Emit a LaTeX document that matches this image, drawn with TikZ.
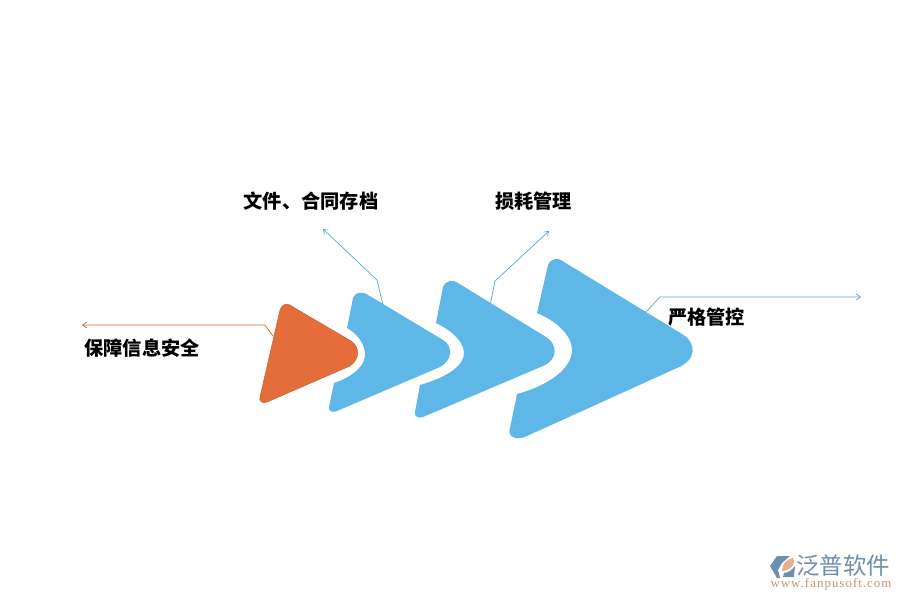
\documentclass[tikz,border=0pt]{standalone}
\usepackage{fontspec}
\usetikzlibrary{arrows.meta}
\setmainfont{Liberation Serif}
\newfontfamily\cjk{Noto Sans CJK SC}
\newfontfamily\sitefont[LetterSpace=8]{Liberation Serif}
\definecolor{arrowblue}{HTML}{5EB7E6}
\definecolor{arroworange}{HTML}{E56D3B}
\definecolor{logoblue}{HTML}{6F8FAF}
\definecolor{logoorange}{HTML}{E8AE85}
\tikzset{
  steptext/.style={font=\cjk\bfseries\fontsize{16.4}{16.4}\selectfont, inner sep=0pt},
  leader/.style={->, arrowblue!92!black, line width=0.6pt},
}

\begin{document}
\begin{tikzpicture}[x=0.03cm, y=-0.03cm, >={Straight Barb[length=3.5pt,width=5pt]}]
  \useasboundingbox (0,0) rectangle (900,600);

  % anchor points of the leaders
  \coordinate (safeS) at (273,336);
  \coordinate (safeB) at (265,325);
  \coordinate (safeE) at (82,325);
  \coordinate (fileS) at (383,305);
  \coordinate (fileB) at (377,280);
  \coordinate (fileE) at (323,229);
  \coordinate (lossS) at (490,306);
  \coordinate (lossB) at (495,281);
  \coordinate (lossE) at (549,231);
  \coordinate (ctrlS) at (646,312);
  \coordinate (ctrlB) at (660,297);
  \coordinate (ctrlE) at (861,297);

  % leaders
  \draw[->, arroworange!90!black, line width=0.6pt] (safeS) -- (safeB) -- (safeE);
  \draw[leader] (fileS) -- (fileB) -- (fileE);
  \draw[leader] (lossS) -- (lossB) -- (lossE);
  \draw[leader] (ctrlS) -- (ctrlB) -- (ctrlE);

  % orange triangle
  \draw[fill=arroworange, draw=arroworange!85!black, line width=0.4pt]
    (280,310) .. controls (282,304) and (287,302) .. (293,307)
    -- (351,341) .. controls (360,347) and (360,359) .. (350,366)
    -- (267,402) .. controls (262,404) and (259,401) .. (260,397) -- cycle;

  % blue chevrons
  \fill[arrowblue]
    (353,298) .. controls (355,292) and (362,291) .. (368,295)
    -- (443,340) .. controls (453,346) and (453,360) .. (440,367)
    -- (337,411) .. controls (332,413) and (328,411) .. (329,407)
    -- (334,383) .. controls (358,375) and (366,362) .. (365,353)
    .. controls (364,342) and (356,333) .. (347,328) -- cycle;
  \fill[arrowblue]
    (443,287) .. controls (445,281) and (452,279) .. (458,283)
    -- (546,337) .. controls (558,344) and (558,360) .. (543,366)
    -- (423,417) .. controls (418,419) and (414,416) .. (415,412)
    -- (420,385) .. controls (448,377) and (465,365) .. (464,352)
    .. controls (463,340) and (449,329) .. (436,323) -- cycle;
  \fill[arrowblue]
    (548,265) .. controls (551,258) and (558,257) .. (564,262)
    -- (682,334) .. controls (697,343) and (697,360) .. (677,368)
    -- (527,436) .. controls (516,441) and (507,437) .. (510,428)
    -- (517,394) .. controls (550,385) and (572,368) .. (572,350)
    .. controls (572,335) and (556,321) .. (537,313) -- cycle;

  % labels
  \node[steptext] (file) at (311,201) {文件、合同存档};
  \node[steptext] (loss) at (533.5,201) {损耗管理};
  \node[steptext] (ctrl) at (706.5,317) {严格管控};
  \node[steptext] (safe) at (142,348) {保障信息安全};

  % logo
  \fill[logoblue] (770,566) -- (777,556) -- (790,556) -- (782,563)
    -- (778,570) -- (780,578) -- (777,578) -- cycle;
  \fill[logoorange] (782,571) .. controls (782,564) and (786,559) .. (793,558)
    -- (794,561) .. controls (794,566) and (790,570) .. (782,571) -- cycle;
  \fill[logoblue] (783,577) -- (784,573) .. controls (788,573) and (792,570) .. (795,566)
    -- (794,577) -- cycle;
  \node[font=\cjk\fontsize{20}{20}\selectfont, text=logoblue, inner sep=0pt] (brand) at (843,566) {泛普软件};
  \node[font=\sitefont\fontsize{11}{11}\selectfont, text=logoorange!85!black, inner sep=0pt] (site) at (831,584) {www.fanpusoft.com};
\end{tikzpicture}
\end{document}
